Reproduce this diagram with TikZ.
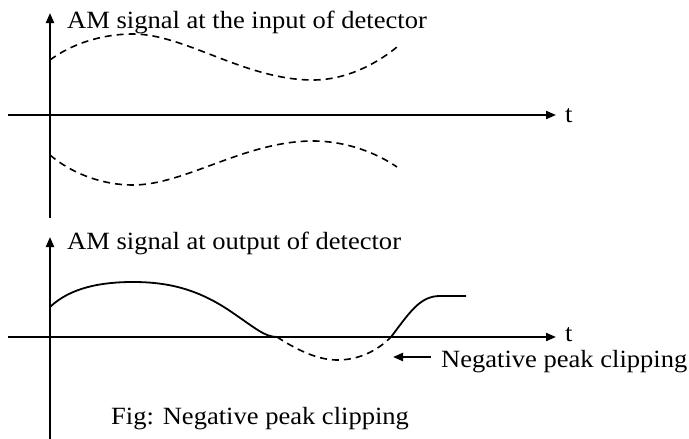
\documentclass[tikz,border=0pt]{standalone}
\usepackage{fontspec}
\setmainfont{Liberation Serif}
\usetikzlibrary{arrows.meta}
\begin{document}
\begin{tikzpicture}[x=1pt,y=-1pt,
  axis/.style={line width=2pt,-{Triangle[length=10pt,width=8pt]}},
  env/.style={line width=1.6pt,dash pattern=on 7pt off 5pt},
  sig/.style={line width=1.8pt},
  lbl/.style={inner sep=0pt,anchor=base west,xscale=1.07,font=\fontsize{24.8}{29}\selectfont}]
\useasboundingbox (0,0) rectangle (689,439);
% ---------- top panel ----------
\coordinate (tyb) at (50,218);
\coordinate (tyt) at (50,13);
\coordinate (txl) at (8,115);
\coordinate (txr) at (556,115);
\draw[axis] (tyb) -- (tyt);
\draw[axis] (txl) -- (txr);
\node[lbl] (ttitle) at (67,28) {AM signal at the input of detector};
\node[lbl] (tt) at (565,122) {t};
\draw[env] (50,60) .. controls (70,45) and (100,34) .. (133,34)
  .. controls (185,34) and (245,80) .. (313,80)
  .. controls (345,80) and (375,65) .. (397,47);
\draw[env] (50,155) .. controls (70,172) and (100,185) .. (133,185)
  .. controls (185,185) and (245,141) .. (313,141)
  .. controls (345,141) and (375,152) .. (397,167);
% ---------- bottom panel ----------
\coordinate (byb) at (50,439);
\coordinate (byt) at (50,237);
\coordinate (bxl) at (8,337);
\coordinate (bxr) at (556,337);
\draw[axis] (byb) -- (byt);
\draw[axis] (bxl) -- (bxr);
\node[lbl] (btitle) at (67,249) {AM signal at output of detector};
\node[lbl] (bt) at (565,341) {t};
\draw[sig] (50,307) .. controls (70,288) and (100,282) .. (133,282)
  .. controls (170,282) and (200,290) .. (233,313)
  .. controls (255,328) and (265,337) .. (277,337)
  -- (391,337) .. controls (410,312) and (420,296) .. (440,296) -- (466,296);
\draw[env] (277,337) .. controls (300,352) and (320,360) .. (337,360)
  .. controls (360,360) and (378,350) .. (391,337);
\node[lbl] (neg) at (441,367) {Negative peak clipping};
\coordinate (arrs) at (431,357);
\coordinate (arre) at (393,357);
\draw[axis] (arrs) -- (arre);
\node[lbl] (fig) at (111,424) {Fig: Negative peak clipping};
\end{tikzpicture}
\end{document}
